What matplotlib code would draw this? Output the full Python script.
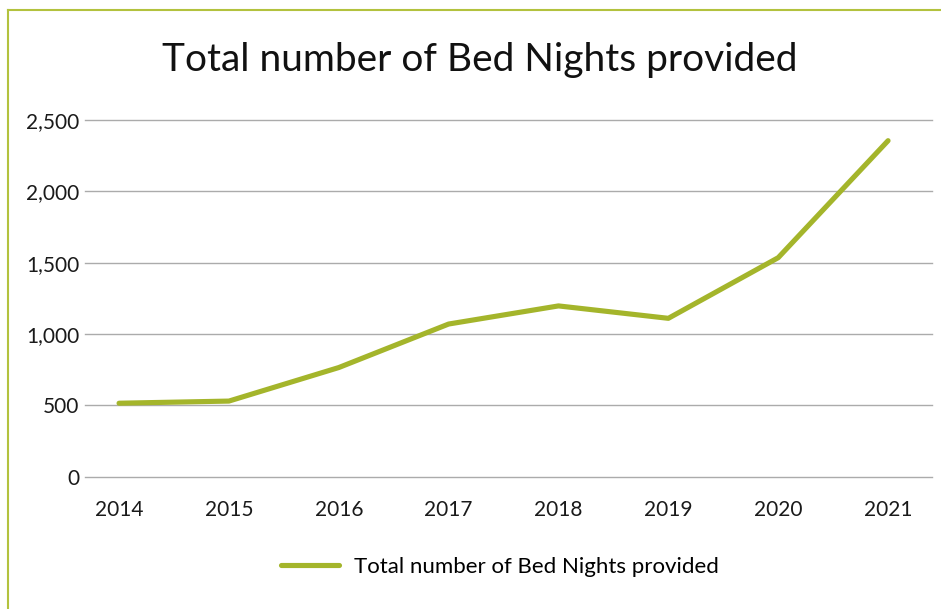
import matplotlib
matplotlib.use("Agg")
import matplotlib.pyplot as plt
from matplotlib.lines import Line2D

years = ["2014", "2015", "2016", "2017", "2018", "2019", "2020", "2021"]
bed_nights = [515, 530, 765, 1070, 1197, 1110, 1535, 2355]
y_ticks = [0, 500, 1000, 1500, 2000, 2500]
y_labels = ["0", "500", "1,000", "1,500", "2,000", "2,500"]

line_color = "#A4B52B"
border_color = "#B3C23E"
grid_color = "#ABABAB"

plt.rcParams["font.family"] = ["Lato", "DejaVu Sans"]

fig = plt.figure(figsize=(9.41, 6.09), dpi=100)
ax = fig.add_axes([85 / 941, 1 - 476.7 / 609, (932 - 85) / 941, (476.7 - 120) / 609])

x = list(range(len(years)))
ax.plot(x, bed_nights, color=line_color, linewidth=3.7, solid_capstyle="round",
        solid_joinstyle="round", label="Total number of Bed Nights provided", zorder=3)

ax.set_ylim(0, 2500)
ax.set_xlim(-0.31, 7.40)
ax.set_yticks(y_ticks)
ax.set_yticklabels(y_labels)
ax.set_xticks(x)
ax.set_xticklabels(years)
ax.tick_params(axis="both", length=0, labelsize=15, colors="#1a1a1a")
ax.tick_params(axis="y", pad=4)
ax.tick_params(axis="x", pad=17)
ax.grid(axis="y", color=grid_color, linewidth=1.0)
for gl in ax.get_ygridlines():
    gl.set_clip_on(False)
ax.set_axisbelow(True)
for s in ax.spines.values():
    s.set_visible(False)

fig.text(480 / 941, 1 - 60 / 609, "Total number of Bed Nights provided",
         ha="center", va="center", fontsize=28, color="#111111")

handle = Line2D([0], [0], color=line_color, linewidth=3.7, solid_capstyle="round")
fig.legend([handle], ["Total number of Bed Nights provided"], loc="center",
           bbox_to_anchor=(500 / 941, 1 - 567 / 609), frameon=False, fontsize=16,
           handlelength=2.6, handletextpad=0.7)

# green frame lines at left and top
fig.add_artist(Line2D([8 / 941, 8 / 941], [0, 1 - 10 / 609], color=border_color,
                      linewidth=1.5, transform=fig.transFigure))
fig.add_artist(Line2D([8 / 941, 1], [1 - 10 / 609, 1 - 10 / 609], color=border_color,
                      linewidth=1.5, transform=fig.transFigure))

fig.savefig("out.png", dpi=100)
